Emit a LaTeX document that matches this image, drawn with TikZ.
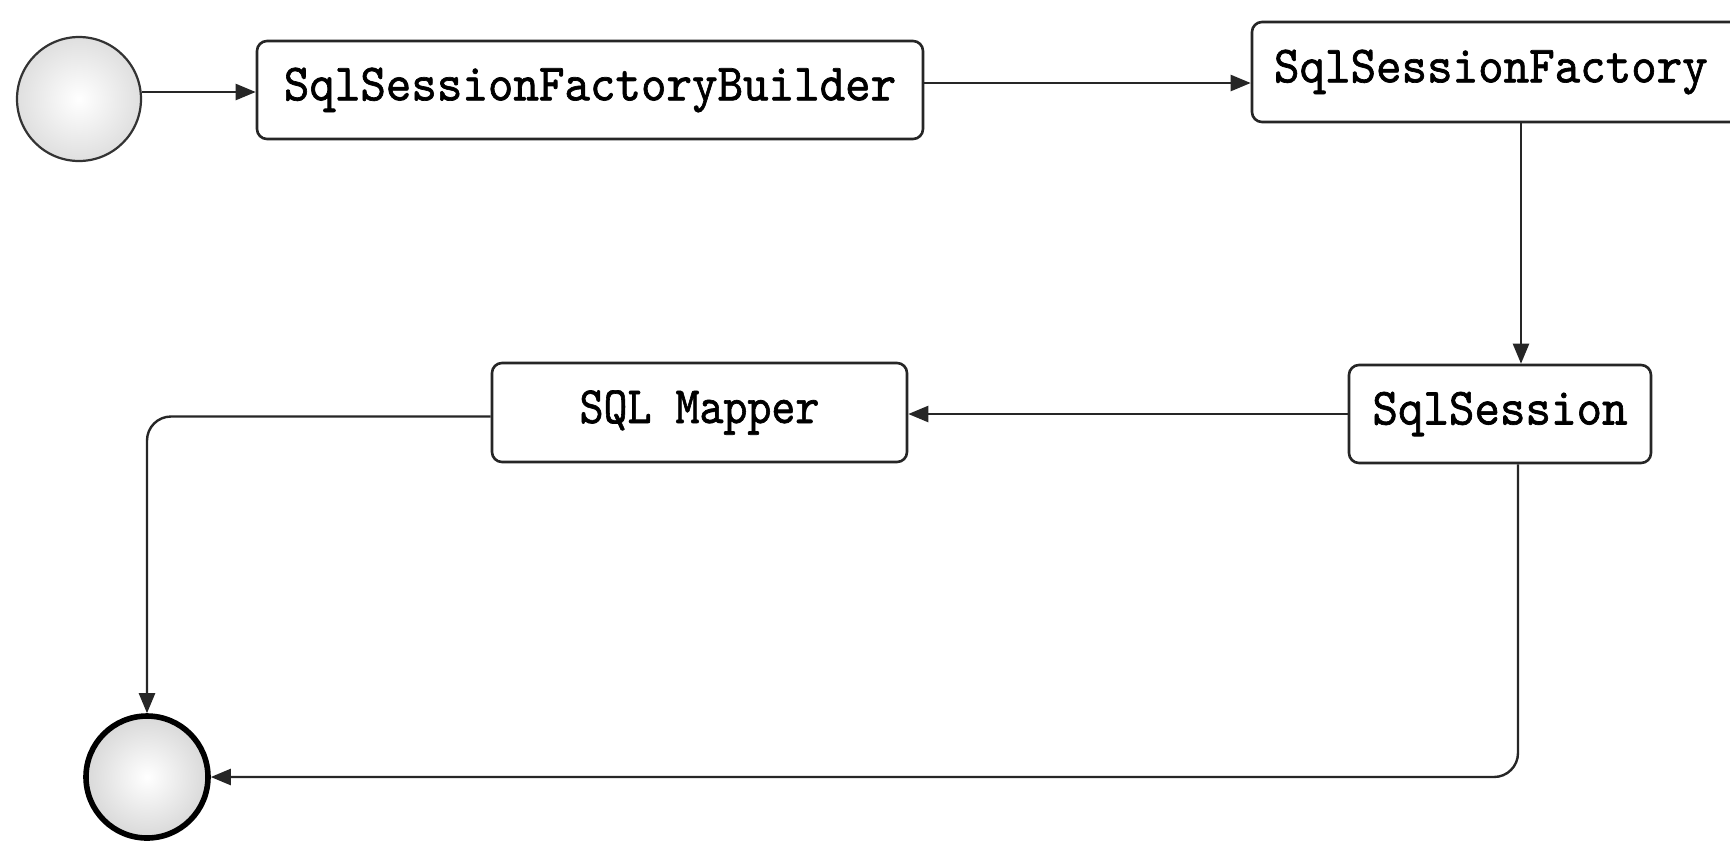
\documentclass[tikz,border=0pt]{standalone}
\usepackage{fontspec}
\newfontfamily\monob[FakeBold=1.3]{lmmono10-regular.otf}
\usetikzlibrary{arrows.meta}
\newcommand{\lbl}[1]{\scalebox{1}[1.08]{\fontsize{24.3pt}{27pt}\selectfont\monob #1}}
\tikzset{
  box/.style={draw=black!85, line width=1.3pt, rounded corners=5pt, fill=white, inner sep=0pt},
  startc/.style={circle, draw=black!80, line width=1.1pt, minimum size=62pt, inner sep=0pt,
    inner color=white, outer color=gray!25},
  endc/.style={circle, draw=black, line width=2.8pt, minimum size=61pt, inner sep=0pt,
    inner color=white, outer color=gray!30},
  arr/.style={draw=black!85, line width=1.2pt, -{Triangle[length=10pt,width=8pt]}},
  conn/.style={arr, rounded corners=12pt}
}
\begin{document}
\begin{tikzpicture}[x=0.5pt,y=-0.5pt]
\useasboundingbox (0,0) rectangle (1730,843);
\fill[white] (0,0) rectangle (1730,843);
\begin{scope}
\clip (0,0) rectangle (1730,843);
\node[startc] (st) at (79,99) {};
\node[box, minimum width=333pt, minimum height=49pt] (b) at (590,90) {\lbl{SqlSessionFactoryBuilder}};
\node[box, minimum width=254pt, minimum height=50pt, text width=240pt, align=left] (sf) at (1506,72) {\hspace*{4pt}\lbl{SqlSessionFactory}};
\node[box, minimum width=151pt, minimum height=49pt] (ss) at (1500,414) {\lbl{SqlSession}};
\node[box, minimum width=207.5pt, minimum height=49.5pt] (m) at (699.5,412.5) {\scalebox{0.94}[1]{\lbl{SQL Mapper}}};
\node[endc] (en) at (147,777) {};
\coordinate (vx) at (1521,0);
\coordinate (bx) at (1518,0);
\draw[arr] ([yshift=3.5pt]st.east) -- ([yshift=3.5pt]st.east -| b.west);
\draw[arr] ([yshift=3.5pt]b.east) -- ([yshift=3.5pt]b.east -| sf.west);
\draw[arr] (sf.south -| vx) -- (ss.north -| vx);
\draw[arr] (ss.west) -- (ss.west -| m.east);
\draw[conn] ([yshift=-2pt]m.west) -| (en.north);
\draw[conn] (ss.south -| bx) |- (en.east);
\end{scope}
\end{tikzpicture}
\end{document}
